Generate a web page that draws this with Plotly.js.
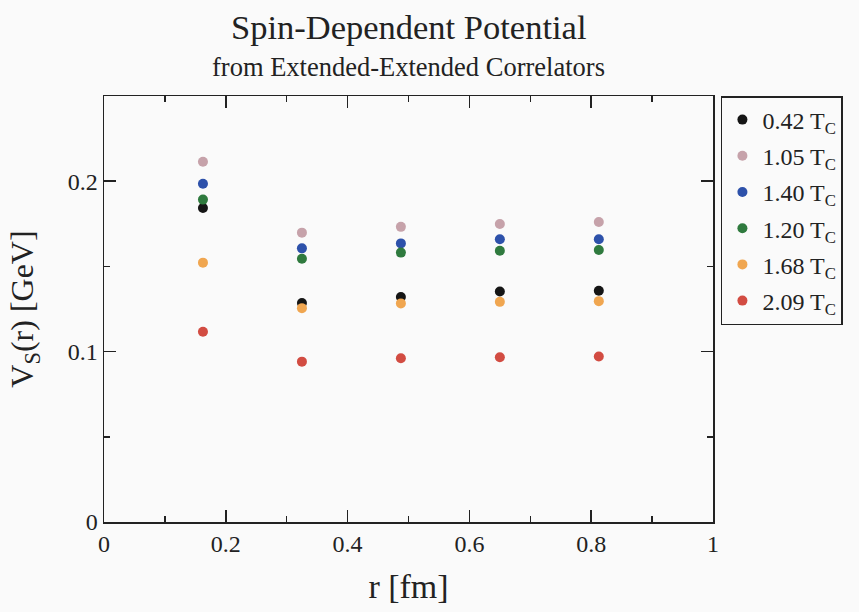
<!DOCTYPE html>
<html>
<head>
<meta charset="utf-8">
<script src="https://cdn.plot.ly/plotly-3.0.1.min.js"></script>
<style>html,body{margin:0;padding:0;background:#fafafa;}#chart{width:859px;height:612px;}</style>
</head>
<body>
<div id="chart"></div>
<script>
// r values [fm]
const rValues = [0.1625, 0.325, 0.4875, 0.65, 0.8125];
// series labels (temperatures)
const seriesNames = ["0.42 T<sub>C</sub>", "1.05 T<sub>C</sub>", "1.40 T<sub>C</sub>", "1.20 T<sub>C</sub>", "1.68 T<sub>C</sub>", "2.09 T<sub>C</sub>"];
// V_S(r) [GeV] per series
const v042 = [0.1843, 0.1285, 0.1320, 0.1353, 0.1357];
const v105 = [0.2114, 0.1698, 0.1732, 0.1749, 0.1761];
const v140 = [0.1985, 0.1606, 0.1635, 0.1659, 0.1659];
const v120 = [0.1892, 0.1545, 0.1581, 0.1592, 0.1596];
const v168 = [0.1522, 0.1255, 0.1283, 0.1292, 0.1296];
const v209 = [0.1116, 0.0941, 0.0961, 0.0967, 0.0971];
const seriesValues = [v042, v105, v140, v120, v168, v209];
const seriesColors = ["#151515", "#c6a2aa", "#2d51aa", "#2f7a3e", "#f0a650", "#d24c42"];
const xTickVals = [0, 0.2, 0.4, 0.6, 0.8, 1];
const xTickText = ["0", "0.2", "0.4", "0.6", "0.8", "1"];
const yTickVals = [0, 0.1, 0.2];
const yTickText = ["0", "0.1", "0.2"];
const titleText = "Spin-Dependent Potential";
const subtitleText = "from Extended-Extended Correlators";

const serif = "Liberation Serif, Times New Roman, serif";
const traces = seriesValues.map((vals, i) => ({
  x: rValues, y: vals, type: "scatter", mode: "markers",
  name: seriesNames[i], legendgroup: "g" + i,
  marker: {color: seriesColors[i], size: 10}
}));

const axisCommon = {
  showline: true, linecolor: "#222", linewidth: 1.5, mirror: "allticks",
  ticks: "inside", ticklen: 12, tickwidth: 1.5, tickcolor: "#222",
  showgrid: false, zeroline: false,
  tickfont: {family: serif, size: 24, color: "#222"}
};

const layout = {
  width: 859, height: 612,
  paper_bgcolor: "#fafafa", plot_bgcolor: "#fafafa",
  margin: {l: 104, r: 146, t: 96, b: 90},
  annotations: [
    {text: titleText, xref: "paper", yref: "paper", x: 0.5, y: 1, xanchor: "center", yanchor: "bottom",
     yshift: 48, showarrow: false, font: {family: serif, size: 34.5, color: "#222"}},
    {text: subtitleText, xref: "paper", yref: "paper", x: 0.5, y: 1, xanchor: "center", yanchor: "bottom",
     yshift: 12, showarrow: false, font: {family: serif, size: 26.5, color: "#222"}}
  ],
  xaxis: Object.assign({}, axisCommon, {
    range: [0, 1], tickvals: xTickVals, ticktext: xTickText,
    minor: {dtick: 0.1, ticks: "inside", ticklen: 6, tickwidth: 1.5, tickcolor: "#222"},
    title: {text: "r [fm]", font: {family: serif, size: 34, color: "#222"}, standoff: 18}
  }),
  yaxis: Object.assign({}, axisCommon, {
    range: [0, 0.25], tickvals: yTickVals, ticktext: yTickText,
    minor: {dtick: 0.05, ticks: "inside", ticklen: 6, tickwidth: 1.5, tickcolor: "#222"},
    title: {text: "V<sub>S</sub>(r) [GeV]", font: {family: serif, size: 32, color: "#222"}, standoff: 24}
  }),
  showlegend: true,
  legend: {
    x: 1.013, xanchor: "left", y: 1, yanchor: "top",
    bgcolor: "#fafafa", bordercolor: "#222", borderwidth: 1.5,
    font: {family: serif, size: 24, color: "#222"},
    traceorder: "grouped", tracegroupgap: 2, itemsizing: "trace"
  }
};

Plotly.newPlot("chart", traces, layout, {displayModeBar: false, staticPlot: true});
</script>
</body>
</html>
